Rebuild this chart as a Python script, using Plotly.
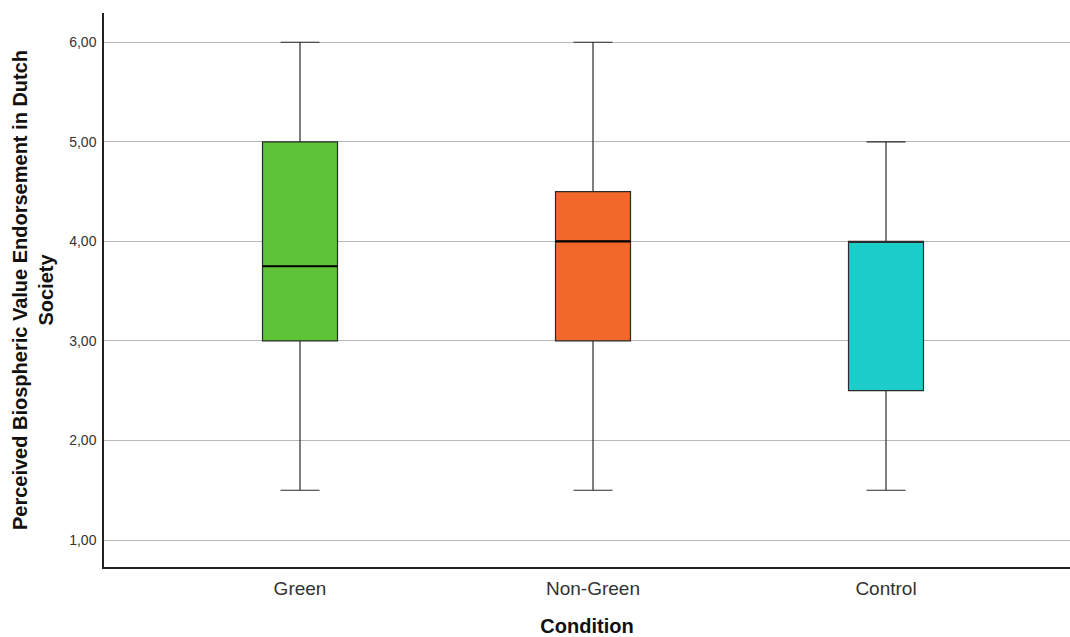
import plotly.graph_objects as go

# Summary statistics per condition
conditions = ["Green", "Non-Green", "Control"]
lower_whisker = [1.5, 1.5, 1.5]
q1 = [3.0, 3.0, 2.5]
median = [3.75, 4.0, 4.0]
q3 = [5.0, 4.5, 4.0]
upper_whisker = [6.0, 6.0, 5.0]
box_colors = ["#5FC337", "#F2672A", "#1CCDCC"]

y_ticks = [1, 2, 3, 4, 5, 6]
y_tick_labels = ["1,00", "2,00", "3,00", "4,00", "5,00", "6,00"]

positions = list(range(len(conditions)))
box_width = 0.256

fig = go.Figure()
for i, name in enumerate(conditions):
    fig.add_trace(go.Box(
        x=[positions[i]],
        q1=[q1[i]], median=[median[i]], q3=[q3[i]],
        lowerfence=[lower_whisker[i]], upperfence=[upper_whisker[i]],
        width=box_width,
        whiskerwidth=0.52,
        fillcolor=box_colors[i],
        line=dict(color="#2b2b2b", width=1.2),
        name=name,
        showlegend=False,
        hoverinfo="skip",
    ))
    # heavier median line when it lies inside the box
    if q1[i] < median[i] < q3[i]:
        fig.add_shape(
            type="line", xref="x", yref="y",
            x0=positions[i] - box_width / 2, x1=positions[i] + box_width / 2,
            y0=median[i], y1=median[i],
            line=dict(color="#000000", width=2.2),
        )

fig.update_layout(
    width=1070, height=637,
    margin=dict(l=104, r=0, t=13, b=70),
    paper_bgcolor="white", plot_bgcolor="white",
    font=dict(family="Liberation Sans, Arial, sans-serif", color="#222222"),
    xaxis=dict(
        range=[-0.669, 2.628],
        tickvals=positions, ticktext=conditions,
        tickfont=dict(size=19, color="#333333"),
        showgrid=False, zeroline=False,
        showline=True, linecolor="#222222", linewidth=1.5,
        ticks="", ticklabelstandoff=3,
        title=dict(text="<b>Condition</b>", font=dict(size=20, color="#111111"), standoff=22),
    ),
    yaxis=dict(
        range=[0.729, 6.294],
        tickvals=y_ticks, ticktext=y_tick_labels,
        tickfont=dict(size=14, color="#333333"),
        showgrid=True, gridcolor="#b8b8b8", gridwidth=1,
        zeroline=False,
        showline=True, linecolor="#222222", linewidth=1.5,
        ticks="", ticklabelstandoff=3,
        title=dict(
            text="<b>Perceived Biospheric Value Endorsement in Dutch<br>Society</b>",
            font=dict(size=20, color="#111111"), standoff=10,
        ),
    ),
)

fig.write_html("out.html")
